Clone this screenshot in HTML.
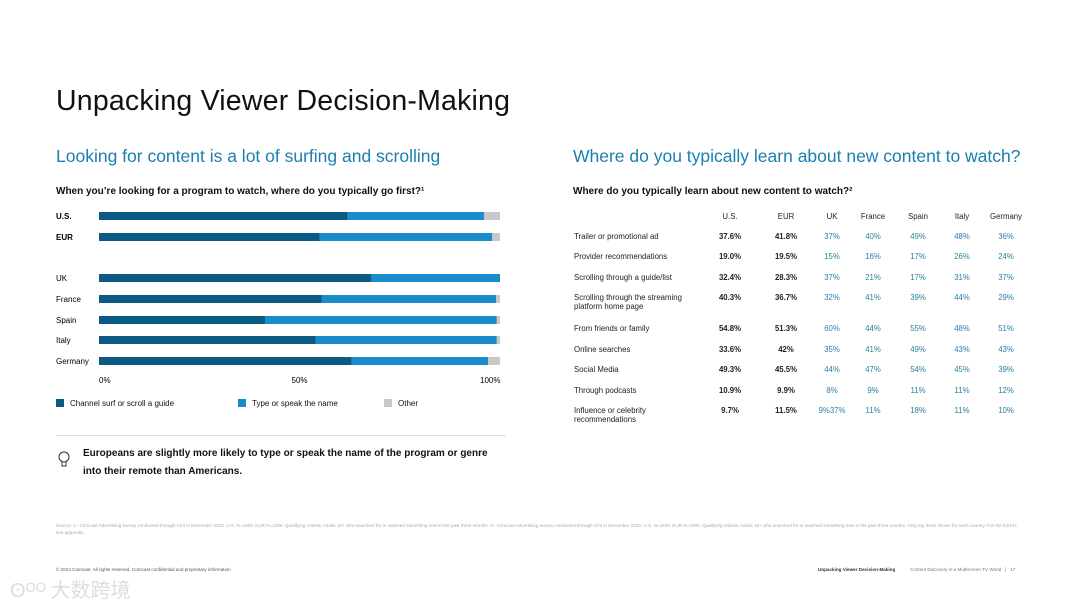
<!DOCTYPE html>
<html><head><meta charset="utf-8"><style>
body{margin:0;width:1080px;height:608px;background:#fff;font-family:"Liberation Sans",sans-serif;position:relative;overflow:hidden;color:#111}
.a{position:absolute;white-space:nowrap}
.tbl span{position:absolute;font-size:7.8px;transform:translateX(-50%)}
.tbl .l{transform:none;color:#222;line-height:9px}
.tbl .b{font-weight:bold;color:#222}
.tbl .c{color:#2a7fa0}
.tbl .h{color:#222}
</style></head><body>
<div class="a" style="left:56px;top:85px;font-size:28.5px;color:#111;letter-spacing:0.2px">Unpacking Viewer Decision-Making</div>
<div class="a" style="left:56px;top:146px;font-size:17.5px;color:#1a7fb0">Looking for content is a lot of surfing and scrolling</div>
<div class="a" style="left:573px;top:146px;font-size:17.5px;color:#1a7fb0">Where do you typically learn about new content to watch?</div>
<div class="a" style="left:56px;top:186px;font-size:10px;font-weight:bold">When you’re looking for a program to watch, where do you typically go first?¹</div>
<div class="a" style="left:573px;top:186px;font-size:10px;font-weight:bold">Where do you typically learn about new content to watch?²</div>
<svg id="chart" class="a" style="left:0;top:0" width="540" height="420"></svg>
<div class="a" style="left:56px;top:399px;font-size:8px"><span style="display:inline-block;width:8px;height:8px;background:#0b5a86;vertical-align:-1px;margin-right:6px"></span>Channel surf or scroll a guide</div>
<div class="a" style="left:238px;top:399px;font-size:8px"><span style="display:inline-block;width:8px;height:8px;background:#1a8ccb;vertical-align:-1px;margin-right:6px"></span>Type or speak the name</div>
<div class="a" style="left:384px;top:399px;font-size:8px"><span style="display:inline-block;width:8px;height:8px;background:#c8c8c8;vertical-align:-1px;margin-right:6px"></span>Other</div>
<div class="a" style="left:56px;top:435px;width:450px;height:1px;background:#ddd"></div>
<svg class="a" style="left:56px;top:450px" width="16" height="20"><circle cx="8" cy="7" r="5" fill="none" stroke="#333" stroke-width="1"/><path d="M6 12v4h4v-4" fill="none" stroke="#333"/></svg>
<div class="a" style="left:83px;top:445px;font-size:10px;font-weight:bold;line-height:18px;white-space:normal;width:420px">Europeans are slightly more likely to type or speak the name of the program or genre into their remote than Americans.</div>
<div class="a" style="left:56px;top:522px;font-size:4.6px;color:#aaa;white-space:normal;width:965px;line-height:7px">Source: 1– Comcast Advertising survey conducted through Cint in December 2023. U.S. N=1500. EUR N=1000. Qualifying criteria: Adults 18+ who searched for or watched something new in the past three months. 2– Comcast Advertising survey conducted through Cint in December 2023. U.S. N=1500. EUR N=1000. Qualifying criteria: Adults 18+ who searched for or watched something new in the past three months. Only top three shown for each country. For the full list, see appendix.</div>
<div class="a" style="left:56px;top:567px;font-size:4.6px;color:#555">© 2024 Comcast. All rights reserved. Comcast confidential and proprietary information</div>
<div class="a" style="left:818px;top:567px;font-size:4.6px;font-weight:bold;color:#333">Unpacking Viewer Decision-Making</div>
<div class="a" style="left:910px;top:567px;font-size:4.6px;color:#777">Content Discovery in a Multiscreen TV World &nbsp;&nbsp;|&nbsp;&nbsp; 17</div>
<div class="a" style="left:10px;top:574px;font-size:20px;color:#ddd;font-family:'Noto Sans CJK SC',sans-serif">ʘᴼᴼ 大数跨境</div>
<div class="tbl" id="tbl"></div>
<script>
const cats=["U.S.","EUR","UK","France","Spain","Italy","Germany"];
const surf=[62,55,68,55.5,41.4,54,63];
const typeName=[34,43,32,43.5,57.8,45.2,34];
const other=[4,2,0,1,0.8,0.8,3];
const ticks=[0,50,100];
const svg=document.getElementById('chart');
const NS='http://www.w3.org/2000/svg';
const x0=99,x1=500,x=v=>x0+(x1-x0)*v/100;
const rowsY=[216,237,278,299,320,340,361];
cats.forEach((c,i)=>{
 const y=rowsY[i];
 const t=document.createElementNS(NS,'text');
 
 
 t.setAttribute('x',56);t.setAttribute('y',y+3);t.setAttribute('font-size','8');
 if(i<2)t.setAttribute('font-weight','bold');
 t.textContent=c;svg.appendChild(t);
 let acc=0;
 [[surf,'#0b5a86'],[typeName,'#1a8ccb'],[other,'#c8c8c8']].forEach(([arr,col])=>{
  const r=document.createElementNS(NS,'rect');
  
  
  r.setAttribute('x',x(acc));r.setAttribute('y',y-4);
  r.setAttribute('width',Math.max(0,x(acc+arr[i])-x(acc)));r.setAttribute('height',8);
  r.setAttribute('fill',col);svg.appendChild(r);acc+=arr[i];
 });
});
ticks.forEach(v=>{
 const t=document.createElementNS(NS,'text');
 
 
 t.setAttribute('x',v===0?x(v):v===100?x(v)-20:x(v)-8);t.setAttribute('y',383);t.setAttribute('font-size','8');
 t.textContent=v+'%';svg.appendChild(t);
});
const tCols=["U.S.","EUR","UK","France","Spain","Italy","Germany"];
const tRows=["Trailer or promotional ad","Provider recommendations","Scrolling through a guide/list","Scrolling through the streaming<br>platform home page","From friends or family","Online searches","Social Media","Through podcasts","Influence or celebrity<br>recommendations"];
const tUS=["37.6%","19.0%","32.4%","40.3%","54.8%","33.6%","49.3%","10.9%","9.7%"];
const tEUR=["41.8%","19.5%","28.3%","36.7%","51.3%","42%","45.5%","9.9%","11.5%"];
const tUK=["37%","15%","37%","32%","60%","35%","44%","8%","9%37%"];
const tFR=["40%","16%","21%","41%","44%","41%","47%","9%","11%"];
const tES=["49%","17%","17%","39%","55%","49%","54%","11%","18%"];
const tIT=["48%","26%","31%","44%","48%","43%","45%","11%","11%"];
const tDE=["36%","24%","37%","29%","51%","43%","39%","12%","10%"];
const colX=[730,786,832,873,918,962,1006];
const rowY=[232,252,273,293,324,345,365,386,406];
const tb=document.getElementById('tbl');
function sp(txt,cls,l,t,name){const s=document.createElement('span');s.className=cls;s.style.left=l+'px';s.style.top=t+'px';s.innerHTML=txt;
 
 
 tb.appendChild(s);}
tCols.forEach((c,j)=>sp(c,'h',colX[j],212,'column-header'));
const vals=[tUS,tEUR,tUK,tFR,tES,tIT,tDE];
tRows.forEach((r,i)=>{
 sp(r,'l',574,rowY[i],'row-label');
 vals.forEach((a,j)=>sp(a[i],j<2?'b':'c',colX[j],rowY[i],'table-value'));
});
</script>
</body></html>
